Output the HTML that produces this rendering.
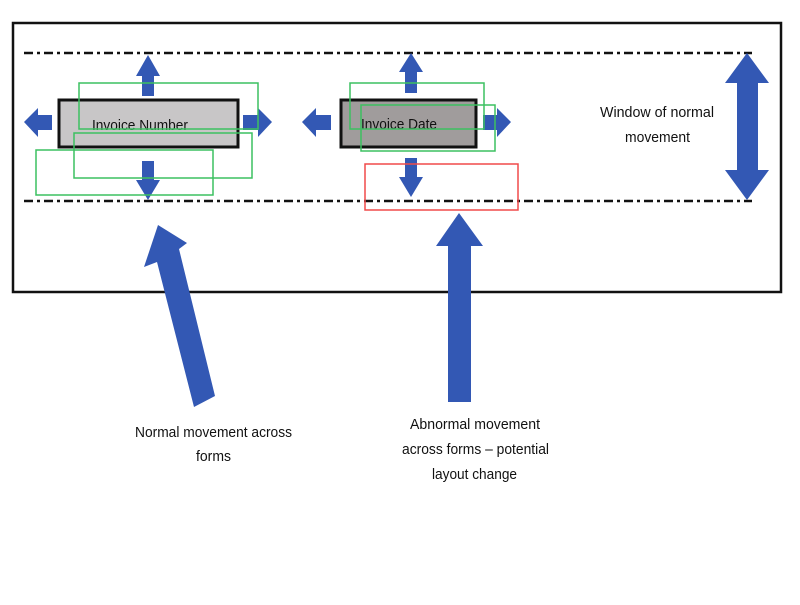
<!DOCTYPE html>
<html><head><meta charset="utf-8"><style>
body{margin:0;background:#fff;}
svg text{font-family:"Liberation Sans Narrow","Liberation Sans",sans-serif;font-size:15px;fill:#111;}
</style></head><body>
<svg width="800" height="600" viewBox="0 0 800 600" xmlns="http://www.w3.org/2000/svg">
<rect x="0" y="0" width="800" height="600" fill="#fff"/>
<rect x="13" y="23" width="768" height="269" fill="none" stroke="#111" stroke-width="2.5"/>
<g stroke="#111" stroke-width="2.5" stroke-dasharray="9,4,3,4">
<line x1="24" y1="53" x2="752" y2="53"/>
<line x1="24" y1="201" x2="752" y2="201"/>
</g>
<g fill="#3358b4">
<polygon points="148,55 160,76 154,76 154,96 142,96 142,76 136,76"/>
<polygon points="148,200 160,180 154,180 154,161 142,161 142,180 136,180"/>
<polygon points="24,122 38,108 38,115 52,115 52,130 38,130 38,137"/>
<polygon points="272,122 258,108 258,115 243,115 243,130 258,130 258,137"/>
<polygon points="411,53 423,72 417,72 417,93 405,93 405,72 399,72"/>
<polygon points="411,197 423,177 417,177 417,158 405,158 405,177 399,177"/>
<polygon points="302,122 316,108 316,115 331,115 331,130 316,130 316,137"/>
<polygon points="511,122 497,108 497,115 483,115 483,130 497,130 497,137"/>
<polygon points="747,53 769,83 758,83 758,170 769,170 747,200 725,170 737,170 737,83 725,83"/>
<polygon points="158,225 187,243 179,249 215,396 194,407 157,262 144,267"/>
<polygon points="459,213 483,246 471,246 471,402 448,402 448,246 436,246"/>
</g>
<rect x="59" y="100" width="179" height="47" fill="#c8c6c7" stroke="#111" stroke-width="3"/>
<text x="92" y="130" textLength="96" lengthAdjust="spacingAndGlyphs">Invoice Number</text>
<rect x="341" y="100" width="135" height="47" fill="#a09c9c" stroke="#111" stroke-width="3"/>
<text x="361" y="129" textLength="76" lengthAdjust="spacingAndGlyphs">Invoice Date</text>
<g fill="none" stroke="#3cc060" stroke-width="1.5">
<rect x="79" y="83" width="179" height="46"/>
<rect x="74" y="133" width="178" height="45"/>
<rect x="36" y="150" width="177" height="45"/>
<rect x="350" y="83" width="134" height="46"/>
<rect x="361" y="105" width="134" height="46"/>
</g>
<rect x="365" y="164" width="153" height="46" fill="none" stroke="#f04a4a" stroke-width="1.5"/>
<text x="600" y="117" textLength="114" lengthAdjust="spacingAndGlyphs">Window of normal</text>
<text x="625" y="142" textLength="65" lengthAdjust="spacingAndGlyphs">movement</text>
<text x="135" y="437" textLength="157" lengthAdjust="spacingAndGlyphs">Normal movement across</text>
<text x="196" y="461" textLength="35" lengthAdjust="spacingAndGlyphs">forms</text>
<text x="410" y="429" textLength="130" lengthAdjust="spacingAndGlyphs">Abnormal movement</text>
<text x="402" y="454" textLength="147" lengthAdjust="spacingAndGlyphs">across forms – potential</text>
<text x="432" y="479" textLength="85" lengthAdjust="spacingAndGlyphs">layout change</text>
</svg>
</body></html>
